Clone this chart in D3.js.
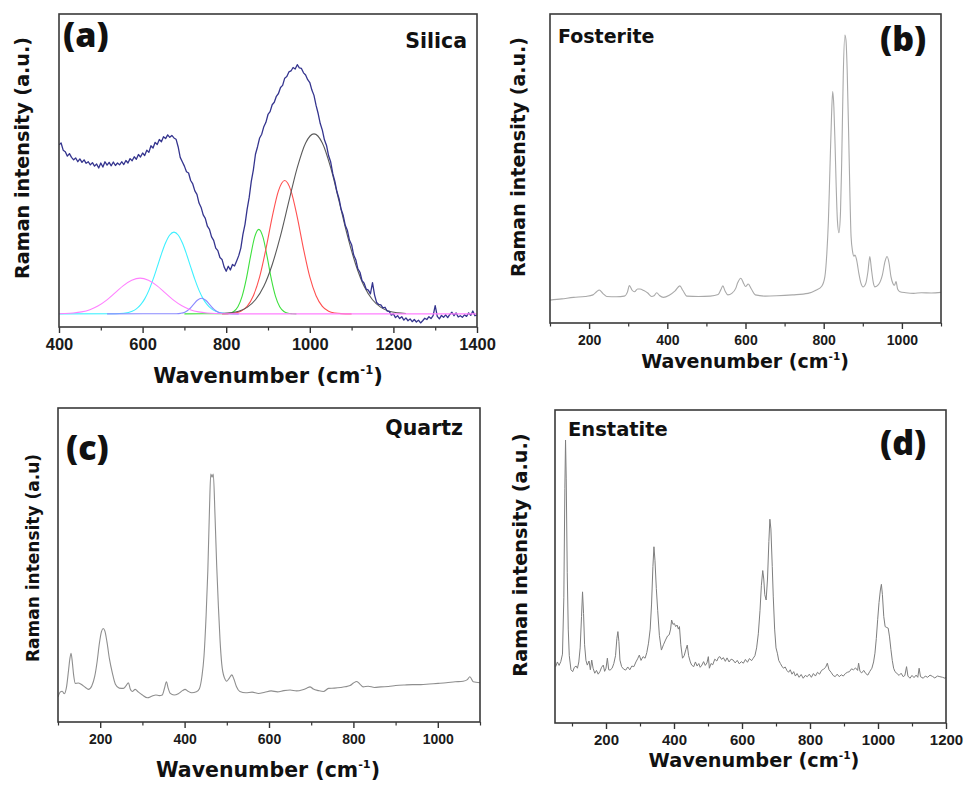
<!DOCTYPE html>
<html><head><meta charset="utf-8">
<script src="https://cdn.jsdelivr.net/npm/d3@7"></script>
<style>body{margin:0;background:#fff}svg{display:block}</style>
</head><body>
<svg id="fig" width="964" height="785"></svg>
<script>
// ---------------- DATA ----------------
// (a) Silica: measured spectrum sampled every 5 cm-1 from 400 to 1400
const silicaStart = 400, silicaStep = 5;
const silicaIntensity = [
54.0,54.6,52.3,51.8,50.4,51.2,50.0,49.2,49.8,48.6,49.5,48.4,49.2,48.1,48.6,47.6,48.3,47.2,47.9,46.6,
48.2,46.9,48.6,47.5,48.4,47.3,48.5,47.4,48.2,47.6,48.6,47.7,49.0,48.2,49.6,48.9,50.2,49.4,50.9,50.1,
51.4,50.6,52.3,51.6,53.7,53.0,54.8,54.1,55.7,55.0,56.6,56.0,57.2,56.4,57.0,56.2,55.8,53.4,50.0,48.6,
47.2,45.4,45.0,42.6,41.5,39.3,38.2,35.4,34.0,31.6,30.5,28.0,27.0,24.6,23.5,21.0,20.2,18.0,17.4,15.0,
13.6,15.2,14.0,15.8,15.3,16.9,18.6,21.0,25.4,28.6,33.4,37.2,42.3,46.0,51.0,53.4,56.2,57.4,59.8,61.2,
63.7,64.6,66.8,67.6,69.5,70.4,72.3,73.0,75.3,75.8,77.3,77.6,78.7,78.2,79.6,78.6,78.4,77.0,76.3,74.8,
73.9,71.5,69.8,66.6,64.0,60.8,58.7,55.6,53.8,50.5,48.5,44.8,42.3,39.0,36.8,33.4,31.4,28.2,26.6,23.5,
22.1,18.8,17.3,14.4,13.3,10.6,9.8,7.9,7.6,6.4,10.0,6.0,3.6,3.0,2.9,1.9,2.1,0.9,0.8,-0.4,
0.0,-1.2,-0.6,-1.5,-0.9,-2.0,-1.3,-2.2,-1.6,-2.5,-1.8,-2.6,-2.0,-2.9,-2.2,-1.4,-1.8,-0.9,-1.5,-0.6,
2.6,-0.8,-1.6,-0.5,-1.1,-0.3,-1.2,-0.2,0.5,-0.6,0.3,-1.0,-0.6,-1.1,-0.3,-0.8,0.3,-0.5,0.9,-0.6,-0.4
];
// (a) fitted component bands [wavenumber, intensity]
const bandMagenta = [[400,0.04],[414,0.09],[434,0.25],[454,0.62],[474,1.34],[494,2.58],[514,4.4],[534,6.7],[554,9.0],[574,10.7],[594,11.4],[614,10.7],[634,9.0],[654,6.7],[674,4.4],[694,2.58],[714,1.34],[734,0.62],[754,0.25],[774,0.09],[794,0.03],[850,0],[1400,0]];
const bandCyan = [[400,0],[535,0.03],[555,0.18],[575,0.82],[585,1.58],[595,2.85],[605,4.78],[615,7.5],[625,11.0],[635,15.0],[645,19.1],[655,22.7],[665,25.2],[675,26.1],[685,25.2],[695,22.7],[705,19.1],[715,15.0],[725,11.0],[735,7.5],[745,4.78],[755,2.85],[765,1.58],[775,0.82],[795,0.18],[815,0.03],[830,0]];
const bandBlue = [[515,0],[681,0.03],[691,0.16],[701,0.54],[711,1.44],[721,2.87],[731,4.35],[741,5.0],[751,4.35],[761,2.87],[771,1.44],[781,0.54],[791,0.16],[801,0.03],[830,0]];
const bandGreen = [[700,0],[798,0.05],[808,0.21],[818,0.77],[828,2.28],[838,5.6],[848,11.1],[858,18.2],[868,24.5],[878,27.0],[888,24.5],[898,18.2],[908,11.1],[918,5.6],[928,2.28],[938,0.77],[948,0.21],[958,0.05],[968,0]];
const bandRed = [[790,0],[805,0.07],[820,0.25],[835,0.84],[850,2.4],[865,5.8],[880,11.8],[895,20.7],[910,30.9],[925,39.3],[940,42.6],[955,39.3],[970,30.9],[985,20.7],[1000,11.8],[1015,5.8],[1030,2.4],[1045,0.84],[1060,0.25],[1075,0.07],[1100,0]];
const bandGray = [[790,0.1],[810,0.32],[830,0.85],[850,2.06],[870,4.5],[890,8.8],[910,15.7],[930,25.0],[950,36.0],[970,46.7],[990,54.6],[1010,57.5],[1030,54.6],[1050,46.7],[1070,36.0],[1090,25.0],[1110,15.7],[1130,8.8],[1150,4.5],[1170,2.06],[1190,0.85],[1210,0.32],[1230,0.1]];

// (b) Fosterite
const fosteriteWavenumber = [100,130,160,190,210,220,226,235,245,270,290,298,303,310,316,324,330,340,350,360,366,373,380,390,405,420,432,440,450,480,510,530,537,542,548,555,565,575,580,588,596,600,607,615,625,650,680,720,760,780,795,803,808,812,816,820,823,826,829,832,835,839,843,846,850,854,857,860,864,867,870,874,877,880,884,890,895,901,908,913,918,922,927,931,940,950,957,962,967,972,977,981,985,989,995,1010,1030,1050,1075,1100];
const fosteriteIntensity = [7.4,7.8,8.3,8.6,9.1,10.2,10.7,9.6,8.6,8.5,8.7,10.0,12.1,10.6,10.1,11.0,11.0,10.5,9.7,8.6,8.8,9.8,8.9,8.3,9.0,10.4,12.0,10.5,8.7,8.6,8.7,9.2,10.8,12.0,10.3,9.1,9.6,11.2,13.0,14.5,12.6,11.8,12.6,11.0,9.1,8.7,8.8,9.1,9.6,10.6,11.9,15.0,22.5,33.0,50.0,67.0,74.9,70.0,58.0,44.0,33.3,29.2,36.0,52.0,80.0,93.2,91.5,82.0,60.0,42.0,28.0,23.0,21.6,22.0,20.5,16.0,13.0,11.7,13.0,16.5,21.5,17.5,13.0,11.7,12.4,15.5,20.0,21.5,19.5,15.0,12.8,12.2,13.4,11.0,10.1,9.8,9.6,9.8,9.7,9.9];

// (c) Quartz
const quartzWavenumber = [100,105,110,115,120,125,128,131,134,137,141,148,155,165,172,180,187,193,198,203,207,211,216,222,229,236,245,255,261,267,271,276,283,290,300,312,322,332,340,347,352,357,361,366,375,385,395,401,408,417,428,435,441,446,451,455,459,462,465,468,472,476,480,484,488,494,500,506,512,517,523,531,545,560,575,590,605,620,635,650,665,680,690,697,705,717,729,741,755,770,780,792,800,808,816,823,835,850,865,883,900,922,940,960,980,1001,1020,1041,1060,1070,1076,1084,1100];
const quartzIntensity = [8.0,9.5,9.8,9.0,11.0,16.5,20.0,21.9,19.0,15.0,12.3,12.4,12.0,11.0,10.4,11.5,14.5,19.5,25.0,28.8,29.8,29.0,25.5,20.0,15.5,12.0,10.8,10.7,11.5,12.5,10.6,9.7,10.4,9.6,8.6,7.7,8.2,8.6,8.4,8.6,10.6,12.8,10.8,9.1,8.6,9.0,10.0,10.4,9.8,9.3,9.6,10.6,14.5,21.0,34.0,48.0,68.0,79.0,78.0,79.0,66.0,50.0,37.0,26.0,18.5,14.2,13.0,14.0,15.0,13.6,11.2,9.7,9.3,9.5,9.1,9.5,9.9,9.6,10.0,10.2,9.9,10.3,10.8,11.2,10.5,10.0,9.7,10.7,10.8,11.0,11.2,11.6,12.4,12.9,12.0,11.2,11.4,11.0,11.2,11.3,11.6,11.8,11.9,11.9,12.1,12.3,12.5,12.8,13.0,13.5,14.4,12.8,12.5];

// (d) Enstatite
const enstatiteWavenumber = [52,57,62,67,72,76,79,81,83,86,89,92,97,102,107,112,116,120,124,128,131,134,137,141,145,150,154,158,162,167,172,177,182,187,192,196,200,204,208,212,218,223,228,232,235,238,241,246,252,258,264,270,276,282,288,293,298,303,309,315,320,325,330,334,338,341,344,348,352,357,363,369,375,381,386,390,393,397,401,405,409,413,416,420,425,430,435,439,443,448,452,458,463,468,473,477,482,487,492,497,501,504,509,514,520,526,531,535,540,545,551,556,562,568,574,580,586,592,598,604,610,616,622,628,633,638,643,648,653,657,661,664,667,671,675,679,682,685,689,692,696,700,704,708,713,717,722,727,732,737,742,747,752,757,762,768,774,780,786,792,798,804,810,816,822,828,834,840,846,851,856,862,868,874,880,886,892,898,904,910,916,922,928,934,940,943,947,952,958,964,970,976,982,987,991,995,999,1003,1007,1010,1013,1017,1021,1026,1030,1034,1038,1042,1046,1050,1056,1062,1068,1074,1079,1084,1088,1094,1100,1106,1112,1117,1121,1125,1133,1139,1146,1153,1160,1167,1175,1182,1190,1197,1200];
const enstatiteIntensity = [18.0,19.5,18.4,19.6,22.0,40.0,75.0,90.4,78.0,48.0,30.0,21.5,17.0,16.4,17.8,18.2,17.5,19.5,24.0,34.0,41.9,35.0,25.0,20.0,18.5,19.8,17.0,20.1,17.5,15.9,16.8,15.6,16.4,17.8,18.5,16.5,17.5,20.7,17.0,16.9,17.5,19.0,21.5,27.0,29.2,26.0,20.1,18.0,17.2,16.9,17.9,17.0,18.2,18.0,19.5,20.5,21.7,20.0,21.2,20.7,22.5,25.5,30.0,38.0,50.0,56.3,52.0,43.0,36.0,28.0,23.3,25.0,26.5,27.8,28.2,30.0,32.9,31.5,31.8,30.8,31.3,30.0,30.8,25.0,20.7,21.5,23.5,24.9,21.5,19.5,18.5,18.0,19.5,18.2,19.0,17.8,18.5,19.6,18.4,19.2,21.2,17.5,19.0,18.6,20.4,19.8,21.0,21.2,20.3,20.9,19.7,20.8,19.5,20.4,20.1,19.2,20.0,18.9,19.6,19.1,20.3,19.4,20.6,19.9,20.7,21.5,24.0,28.5,36.0,44.0,48.7,46.0,41.0,39.3,46.0,58.0,65.1,62.0,50.0,40.3,30.0,24.0,22.3,20.0,19.0,18.2,17.5,17.9,16.8,16.2,17.0,15.6,16.4,15.0,15.8,14.6,15.5,14.3,15.2,14.8,15.6,14.6,15.8,15.0,16.2,15.6,16.8,17.2,17.8,19.1,17.0,16.2,15.2,14.8,15.6,14.8,15.4,15.0,15.8,16.2,16.4,17.3,17.0,17.6,16.8,19.1,16.5,16.0,16.8,15.8,15.3,16.5,17.5,19.5,22.3,27.0,33.0,38.5,42.5,44.3,41.0,34.0,30.8,30.5,30.3,27.5,23.5,20.0,17.5,16.4,15.8,15.2,15.9,14.8,15.2,18.0,15.0,14.3,15.2,14.5,15.3,14.6,17.5,14.8,14.3,15.0,14.6,15.3,14.9,14.4,15.0,14.8,14.6,14.3,14.6];

// tick labels
const ticksA = [400,600,800,1000,1200,1400];
const ticksB = [200,400,600,800,1000];
const ticksC = [200,400,600,800,1000];
const ticksD = [200,400,600,800,1000,1200];

// ---------------- DRAWING ----------------
const svg = d3.select('#fig');
const TITLE_FONT = "'DejaVu Sans', Verdana, sans-serif";
const TICK_FONT = "'Liberation Sans', Arial, sans-serif";
const LETTER_FONT = "'Open Sans', 'DejaVu Sans', sans-serif";
const zip = (a, b) => a.map((v, i) => [v, b[i]]);

function panel(o) {
  const x = d3.scaleLinear().domain(o.xDomain).range([o.left, o.right]);
  const y = d3.scaleLinear().domain(o.yDomain).range([o.bottom, o.top]);
  const g = svg.append('g');
  svg.append('clipPath').attr('id', 'clip' + o.id).append('rect')
    .attr('x', o.left).attr('y', o.top).attr('width', o.right - o.left).attr('height', o.bottom - o.top);
  const plot = g.append('g').attr('clip-path', `url(#clip${o.id})`);
  // minor ticks
  g.append('g').attr('transform', `translate(0,${o.bottom})`)
    .call(d3.axisBottom(x).tickValues(o.minor).tickSize(3.5).tickFormat(''))
    .call(s => s.select('.domain').remove())
    .call(s => s.selectAll('line').attr('stroke', '#333').attr('stroke-width', 1.2));
  // major ticks with labels
  g.append('g').attr('transform', `translate(0,${o.bottom})`)
    .call(d3.axisBottom(x).tickValues(o.ticks).tickSize(6).tickFormat(d3.format('d')))
    .call(s => s.select('.domain').remove())
    .call(s => s.selectAll('line').attr('stroke', '#333').attr('stroke-width', 1.4))
    .call(s => s.selectAll('text').attr('y', o.tickBase).attr('dy', null)
      .attr('font-family', TICK_FONT).attr('font-weight', 'bold')
      .attr('font-size', o.tickSize).attr('fill', '#1a1a1a'));
  // frame
  g.append('rect').attr('x', o.left).attr('y', o.top)
    .attr('width', o.right - o.left).attr('height', o.bottom - o.top)
    .attr('fill', 'none').attr('stroke', '#3a3a3a').attr('stroke-width', 1.6);
  // x title
  const xt = g.append('text').attr('x', o.xtX).attr('y', o.xtY)
    .attr('text-anchor', 'middle').attr('font-family', TITLE_FONT)
    .attr('font-weight', 'bold').attr('font-size', o.xtSize).attr('fill', '#111');
  xt.append('tspan').text('Wavenumber (cm');
  xt.append('tspan').attr('font-size', o.xtSize * 0.55).attr('dy', -o.xtSize * 0.42).text('-1');
  xt.append('tspan').attr('dy', o.xtSize * 0.42).text(')');
  // y title
  g.append('text').attr('transform', `translate(${o.ytX},${o.ytY}) rotate(-90)`)
    .attr('text-anchor', 'middle').attr('font-family', TITLE_FONT)
    .attr('font-weight', 'bold').attr('font-size', o.ytSize).attr('fill', '#111')
    .text(o.yTitle);
  // panel letter
  g.append('text').attr('x', o.letX).attr('y', o.letY)
    .attr('font-family', LETTER_FONT).attr('font-weight', 800)
    .attr('font-size', 34).attr('fill', '#111').text(o.letter);
  // sample name
  g.append('text').attr('x', o.nameX).attr('y', o.nameY)
    .attr('text-anchor', o.nameAnchor).attr('font-family', TITLE_FONT)
    .attr('font-weight', 'bold').attr('font-size', o.nameSize).attr('fill', '#111')
    .text(o.name);
  return { x, y, plot };
}

function drawLine(p, data, color, width, curve) {
  p.plot.append('path').datum(data)
    .attr('fill', 'none').attr('stroke', color).attr('stroke-width', width)
    .attr('stroke-linejoin', 'round')
    .attr('d', d3.line().x(d => p.x(d[0])).y(d => p.y(d[1])).curve(curve || d3.curveLinear));
}
const every = (a, b, s) => d3.range(a, b + 1, s);

// (a)
const pA = panel({ id: 'a', left: 59, right: 477, top: 14, bottom: 327,
  xDomain: [400, 1400], yDomain: [-4.2, 95.8],
  ticks: ticksA, minor: every(500, 1300, 200), tickBase: 23, tickSize: 16.5,
  xtX: 268, xtY: 383, xtSize: 21, ytX: 29, ytY: 158, ytSize: 19.2,
  yTitle: 'Raman intensity (a.u.)', letter: '(a)', letX: 63, letY: 47,
  name: 'Silica', nameX: 467, nameY: 48, nameAnchor: 'end', nameSize: 20.5 });
const silica = silicaIntensity.map((v, i) => [silicaStart + i * silicaStep, v]);
drawLine(pA, bandCyan, '#3ff0ff', 1.1, d3.curveMonotoneX);
drawLine(pA, bandBlue, '#8a8aff', 1.1, d3.curveMonotoneX);
drawLine(pA, bandGreen, '#3ee03e', 1.1, d3.curveMonotoneX);
drawLine(pA, bandRed, '#ff5050', 1.1, d3.curveMonotoneX);
drawLine(pA, bandGray, '#5a5a5a', 1.1, d3.curveMonotoneX);
drawLine(pA, silica, '#34348e', 1.3);
drawLine(pA, bandMagenta, '#ff80ff', 1.1, d3.curveMonotoneX);

// (b)
const pB = panel({ id: 'b', left: 550, right: 941, top: 14, bottom: 323,
  xDomain: [100, 1100], yDomain: [0, 100],
  ticks: ticksB, minor: every(100, 1100, 200), tickBase: 21.5, tickSize: 14,
  xtX: 745, xtY: 368, xtSize: 19, ytX: 525, ytY: 157, ytSize: 19,
  yTitle: 'Raman intensity (a.u.)', letter: '(b)', letX: 880, letY: 51,
  name: 'Fosterite', nameX: 558, nameY: 43, nameAnchor: 'start', nameSize: 19 });
drawLine(pB, zip(fosteriteWavenumber, fosteriteIntensity), '#a9a9a9', 1.1, d3.curveMonotoneX);

// (c)
const pC = panel({ id: 'c', left: 58, right: 480, top: 408, bottom: 722,
  xDomain: [100, 1100], yDomain: [0, 100],
  ticks: ticksC, minor: every(100, 1100, 200), tickBase: 22, tickSize: 14,
  xtX: 268, xtY: 777, xtSize: 20.5, ytX: 39, ytY: 558, ytSize: 17,
  yTitle: 'Raman intensity (a.u)', letter: '(c)', letX: 66, letY: 460,
  name: 'Quartz', nameX: 463, nameY: 435, nameAnchor: 'end', nameSize: 20.5 });
drawLine(pC, zip(quartzWavenumber, quartzIntensity), '#8e8e8e', 1.1, d3.curveMonotoneX);

// (d)
const pD = panel({ id: 'd', left: 555, right: 946, top: 410, bottom: 723,
  xDomain: [50, 1200], yDomain: [0, 100],
  ticks: ticksD, minor: every(100, 1100, 200), tickBase: 21.5, tickSize: 15,
  xtX: 754, xtY: 767, xtSize: 19.3, ytX: 527, ytY: 555, ytSize: 19.3,
  yTitle: 'Raman intensity (a.u.)', letter: '(d)', letX: 880, letY: 455,
  name: 'Enstatite', nameX: 568, nameY: 436, nameAnchor: 'start', nameSize: 19.5 });
drawLine(pD, zip(enstatiteWavenumber, enstatiteIntensity), '#7e7e7e', 1.0);
</script>
</body></html>
